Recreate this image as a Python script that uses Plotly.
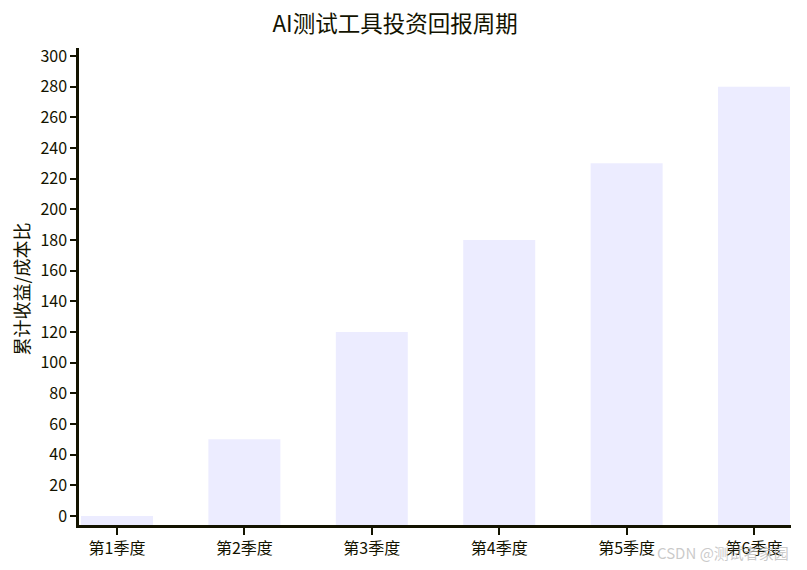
import plotly.graph_objects as go

categories = ["第1季度", "第2季度", "第3季度", "第4季度", "第5季度", "第6季度"]
values = [0, 50, 120, 180, 230, 280]
y_ticks = list(range(0, 301, 20))

title = "AI测试工具投资回报周期"
y_title = "累计收益/成本比"

y_min, y_max = -5.87, 305.2
axis_color = "#131300"
font_family = "Noto Sans CJK SC, Noto Sans, sans-serif"

fig = go.Figure()
fig.add_trace(go.Bar(
    x=list(range(len(categories))),
    y=[v - y_min for v in values],
    base=y_min,
    width=0.565,
    marker=dict(color="#ECECFF", line=dict(width=0)),
    hoverinfo="skip",
))

fig.update_layout(
    width=807, height=570,
    margin=dict(l=71, r=24, t=40, b=53),
    paper_bgcolor="white", plot_bgcolor="white",
    showlegend=False,
    font=dict(family=font_family, color=axis_color, size=16),
    title=dict(text=title, x=0.4796, xanchor="center", y=0.972, yanchor="middle",
               font=dict(size=22.5, color=axis_color, family=font_family)),
    xaxis=dict(
        range=[-0.298, 5.29],
        tickmode="array", tickvals=list(range(len(categories))), ticktext=categories,
        showline=True, linecolor=axis_color, linewidth=2.5,
        ticks="outside", ticklen=7, tickwidth=2, tickcolor=axis_color,
        showgrid=False, zeroline=False,
        tickfont=dict(size=16, color=axis_color),
    ),
    yaxis=dict(
        range=[y_min, y_max],
        tickmode="array", tickvals=y_ticks,
        showline=True, linecolor=axis_color, linewidth=2.5,
        ticks="outside", ticklen=6, tickwidth=2, tickcolor=axis_color,
        showgrid=False, zeroline=False,
        tickfont=dict(size=16, color=axis_color),
    ),
)

fig.add_annotation(
    text=y_title, xref="paper", yref="paper", x=0, y=0.5,
    xanchor="center", yanchor="middle", xshift=-59, yshift=-3,
    textangle=-90, showarrow=False,
    font=dict(size=18, color=axis_color, family=font_family),
)

fig.add_annotation(
    text="CSDN @测试者家园", xref="paper", yref="paper",
    x=1.0, y=-0.058, xanchor="right", yanchor="middle", showarrow=False,
    font=dict(size=15, color="rgba(185,185,185,0.75)", family=font_family),
)

fig.write_html("out.html")
